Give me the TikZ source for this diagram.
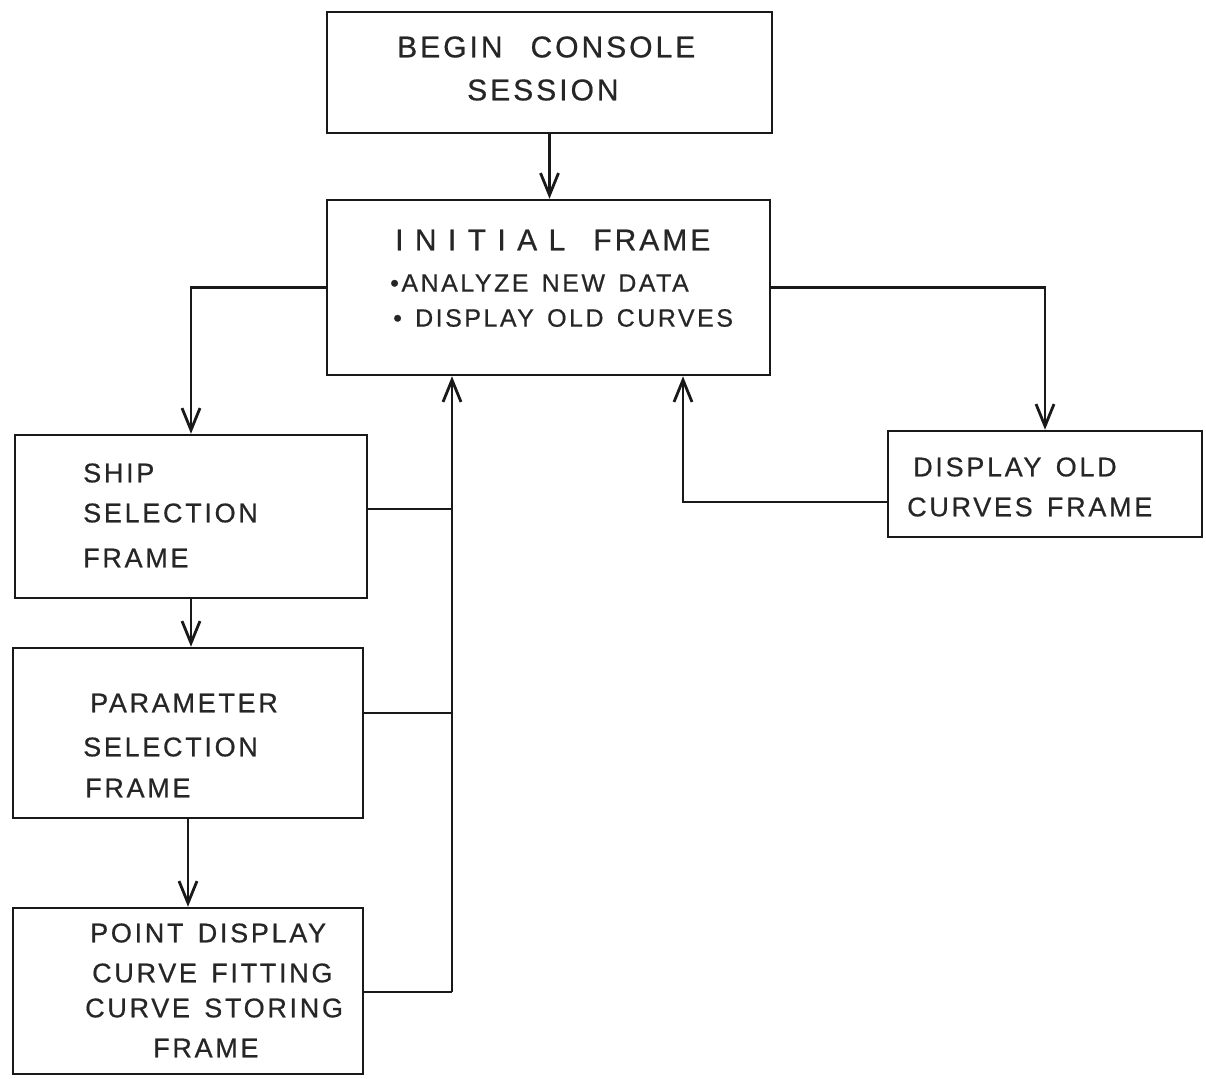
\documentclass[tikz,border=0pt]{standalone}
\usepackage{fontspec}
\setmainfont[LetterSpace=10,WordSpace=1.4,FakeBold=0.6]{Liberation Sans}
\usetikzlibrary{arrows.meta}
\tikzset{
  box/.style={draw=black!90, line width=2.5pt, rectangle, inner sep=0pt},
  lbl/.style={anchor=west, inner sep=0pt, text=black!85, font=\fontsize{27}{27}\selectfont},
  big/.style={font=\fontsize{30}{30}\selectfont},
  mid/.style={font=\fontsize{25}{25}\selectfont},
  conn/.style={draw=black!90, line width=2.5pt},
  arr/.style={conn, -{Straight Barb[length=22pt,width=18pt,line width=2.8pt]}},
}
\begin{document}
\begin{tikzpicture}[x=1pt,y=-1pt]
\path[use as bounding box, fill=white] (0,0) rectangle (1206,1078);
% boxes
\node[box, minimum width=445pt, minimum height=121pt] (begin) at (549.5,72.5) {};
\node[box, minimum width=443pt, minimum height=175pt] (init) at (548.5,287.5) {};
\node[box, minimum width=352pt, minimum height=163pt] (ship) at (191,516.5) {};
\node[box, minimum width=350pt, minimum height=170pt] (param) at (188,733) {};
\node[box, minimum width=350pt, minimum height=166pt] (point) at (188,991) {};
\node[box, minimum width=314pt, minimum height=106pt] (disp) at (1045,484) {};
% texts
\node[lbl, big] (t1) at (397,47) {BEGIN\hspace{28pt}CONSOLE};
\node[lbl, big] (t2) at (467,90) {SESSION};
\node[lbl, big] (t3) at (395,240) {{\addfontfeature{LetterSpace=38}INITIAL}\hspace{28pt}FRAME};
\node[lbl, mid] (t4) at (390,283) {\textbullet ANALYZE NEW DATA};
\node[lbl, mid] (t5) at (393,318) {\textbullet\ DISPLAY OLD CURVES};
\node[lbl] (t6) at (83,473) {SHIP};
\node[lbl] (t7) at (83,513) {SELECTION};
\node[lbl] (t8) at (83,558) {FRAME};
\node[lbl] (t9) at (90,703) {PARAMETER};
\node[lbl] (t10) at (83,747) {SELECTION};
\node[lbl] (t11) at (85,788) {FRAME};
\node[lbl] (t12) at (90,933) {POINT DISPLAY};
\node[lbl] (t13) at (92,973) {CURVE FITTING};
\node[lbl] (t14) at (85,1008) {CURVE STORING};
\node[lbl] (t15) at (153,1048) {FRAME};
\node[lbl] (t16) at (913,467) {DISPLAY OLD};
\node[lbl] (t17) at (907,507) {CURVES FRAME};
% connectors
\coordinate (j0) at (683,502);
\coordinate (j1) at (452,509);
\coordinate (j2) at (452,713);
\coordinate (j3) at (452,992);
\draw[arr, line width=3.8pt] (begin.south) -- (begin.south |- init.north);
\draw[arr] (init.west) -| (ship.north);
\draw[arr] (init.east) -| (disp.north);
\draw[arr] (disp.west |- j0) -- (j0) -- (init.south -| j0);
\draw[conn] (ship.east |- j1) -- (j1);
\draw[conn] (param.east |- j2) -- (j2);
\draw[conn] (point.east |- j3) -- (j3);
\draw[arr] (j3) -- (init.south -| j3);
\draw[arr] (ship.south) -- (param.north -| ship.south);
\draw[arr] (param.south) -- (point.north);
\end{tikzpicture}
\end{document}
